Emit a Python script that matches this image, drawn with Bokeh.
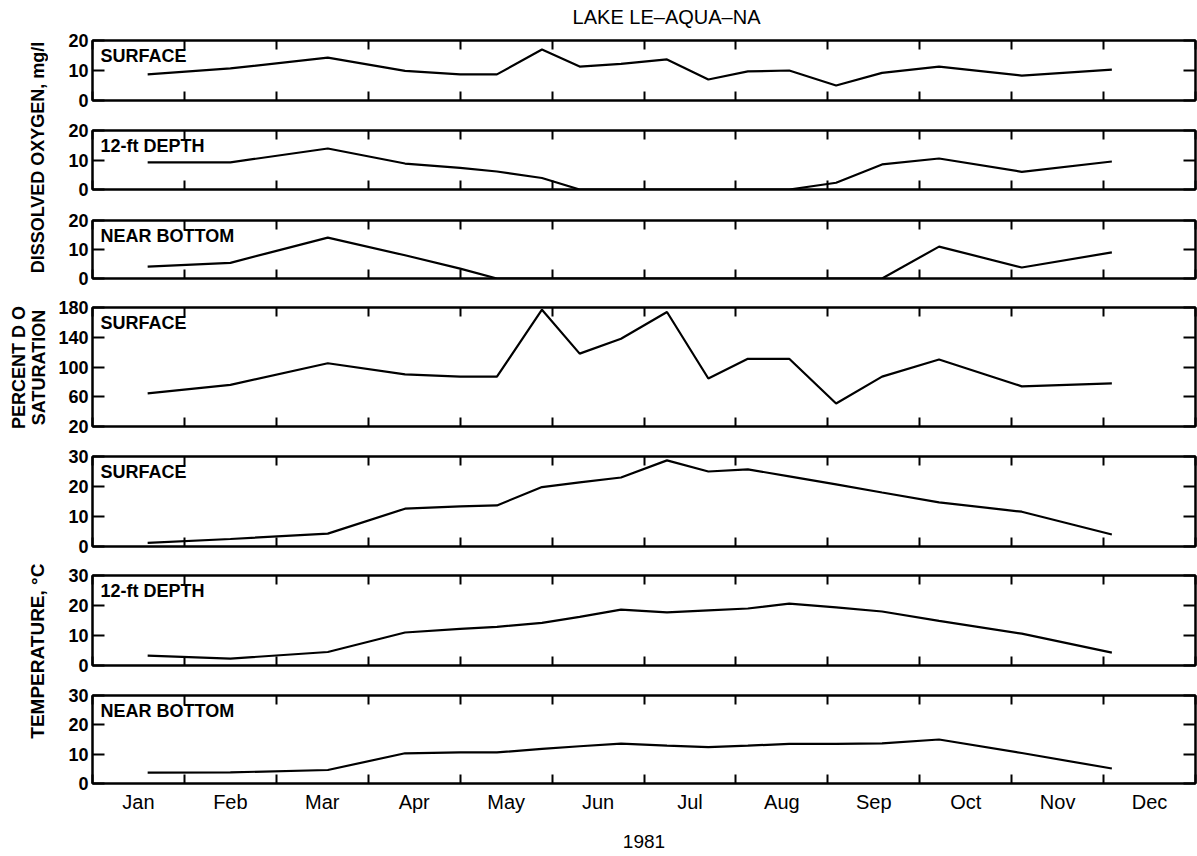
import math
from bokeh.plotting import figure
from bokeh.models import Range1d, FixedTicker, LinearAxis, Label
from bokeh.layouts import row, column
from bokeh.embed import file_html
from bokeh.resources import INLINE

# ---------------- data ----------------
months = ["Jan", "Feb", "Mar", "Apr", "May", "Jun",
          "Jul", "Aug", "Sep", "Oct", "Nov", "Dec"]
# sampling dates, in months from 1 Jan 1981
sample_month = [0.60, 1.50, 2.56, 3.40, 4.00, 4.40, 4.89, 5.30, 5.75,
                6.25, 6.70, 7.13, 7.58, 8.09, 8.59, 9.21, 10.11, 11.09]

do_surface = [8.7, 10.7, 14.3, 9.9, 8.7, 8.7, 17.0, 11.3, 12.2,
              13.7, 7.0, 9.7, 10.0, 5.0, 9.2, 11.3, 8.3, 10.3]
do_12ft = [9.2, 9.2, 13.9, 8.8, 7.3, 6.1, 3.9, 0.0, 0.0,
           0.0, 0.0, 0.0, 0.0, 2.3, 8.5, 10.5, 6.0, 9.5]
do_bottom = [4.1, 5.4, 14.1, 8.0, 3.4, 0.0, 0.0, 0.0, 0.0,
             0.0, 0.0, 0.0, 0.0, 0.0, 0.0, 11.0, 3.8, 9.0]
do_saturation = [64.5, 76, 105, 90, 87, 87, 177, 118, 138,
                 174, 84.5, 111, 111, 51, 87, 110, 74, 78]
temp_surface = [1.2, 2.5, 4.3, 12.6, 13.4, 13.7, 19.8, 21.4, 23.0,
                28.7, 25.0, 25.7, 23.4, 20.7, 18.0, 14.7, 11.6, 4.0]
temp_12ft = [3.3, 2.3, 4.5, 11.0, 12.2, 12.9, 14.2, 16.2, 18.6,
             17.7, 18.4, 19.0, 20.6, 19.4, 18.0, 14.9, 10.6, 4.3]
temp_bottom = [3.7, 3.8, 4.6, 10.3, 10.6, 10.6, 11.8, 12.7, 13.6,
               12.9, 12.4, 12.9, 13.5, 13.5, 13.7, 15.0, 10.4, 5.1]

do_ticks = [0, 10, 20]
sat_ticks = [20, 60, 100, 140, 180]
temp_ticks = [0, 10, 20, 30]

title_text = "LAKE LE–AQUA–NA"
year_text = "1981"

FONT = "Liberation Sans"
W_LEFT = 48
W_PANEL = 1149
H_TITLE = 28

month_centers = [i + 0.5 for i in range(12)]
month_bounds = list(range(13))


def tick_only_axis(ticks, tick_len):
    """Axis that draws only inward tick marks (as minor ticks) and no labels."""
    ax = LinearAxis(ticker=FixedTicker(ticks=[], minor_ticks=ticks))
    ax.axis_line_width = 2
    ax.major_tick_in = 0
    ax.major_tick_out = 0
    ax.minor_tick_in = tick_len
    ax.minor_tick_out = 0
    ax.minor_tick_line_width = 2
    ax.major_label_standoff = 0
    return ax


def make_panel(series, yr, yticks, label, height, top, bottom, last=False):
    p = figure(width=W_PANEL, height=height,
               x_range=Range1d(0, 12), y_range=Range1d(*yr),
               output_backend="svg", toolbar_location=None,
               x_axis_type=None, y_axis_type=None,
               min_border_left=44, min_border_right=2,
               min_border_top=top, min_border_bottom=bottom)
    p.outline_line_color = "black"
    p.outline_line_width = 2
    p.background_fill_color = "white"
    p.border_fill_color = "white"

    p.line(sample_month, series, line_color="black", line_width=2.2)

    # x axes: inward ticks at month boundaries; month names at month centres
    if last:
        ax = LinearAxis(ticker=FixedTicker(ticks=month_centers, minor_ticks=month_bounds))
        ax.axis_line_width = 2
        ax.major_tick_in = 0
        ax.major_tick_out = 0
        ax.minor_tick_in = 9
        ax.minor_tick_out = 0
        ax.minor_tick_line_width = 2
        ax.major_label_overrides = {c: m for c, m in zip(month_centers, months)}
        ax.major_label_text_font = FONT
        ax.major_label_text_font_size = "20px"
        ax.major_label_text_color = "black"
        ax.major_label_standoff = 7
        ax.axis_label = year_text
        ax.axis_label_text_font = FONT
        ax.axis_label_text_font_size = "19px"
        ax.axis_label_text_font_style = "normal"
        ax.axis_label_text_color = "black"
        ax.axis_label_standoff = 19
        p.add_layout(ax, "below")
    else:
        p.add_layout(tick_only_axis(month_bounds, 9), "below")
    p.add_layout(tick_only_axis(month_bounds, 9), "above")

    # y axes
    ay = LinearAxis(ticker=FixedTicker(ticks=yticks))
    ay.axis_line_width = 2
    ay.major_tick_in = 12
    ay.major_tick_out = 0
    ay.major_tick_line_width = 2
    ay.minor_tick_in = 0
    ay.minor_tick_out = 0
    ay.major_label_text_font = FONT
    ay.major_label_text_font_size = "18px"
    ay.major_label_text_font_style = "bold"
    ay.major_label_text_color = "black"
    ay.major_label_standoff = 4
    p.add_layout(ay, "left")
    p.add_layout(tick_only_axis(yticks, 12), "right")

    p.add_layout(Label(x=0, y=yr[1], x_offset=8, y_offset=-5, text=label,
                       text_baseline="top", text_align="left",
                       text_font=FONT, text_font_size="18px",
                       text_font_style="bold", text_color="black"))
    return p


# title strip above the panels (coordinates = pixels)
top_strip = figure(width=W_PANEL, height=H_TITLE, x_range=Range1d(0, W_PANEL),
                   y_range=Range1d(0, H_TITLE), output_backend="svg",
                   toolbar_location=None, x_axis_type=None, y_axis_type=None,
                   min_border=0)
top_strip.outline_line_color = None
top_strip.background_fill_color = "white"
top_strip.border_fill_color = "white"
top_strip.add_layout(Label(x=598, y=H_TITLE - 16, text=title_text,
                           text_align="center", text_baseline="middle",
                           text_font=FONT, text_font_size="20px",
                           text_color="black"))

panels = [
    make_panel(do_surface, (0, 20), do_ticks, "SURFACE", 87, 12, 15),
    make_panel(do_12ft, (0, 20), do_ticks, "12-ft DEPTH", 89, 15, 15),
    make_panel(do_bottom, (0, 20), do_ticks, "NEAR BOTTOM", 88, 16, 14),
    make_panel(do_saturation, (20, 180), sat_ticks, "SURFACE", 149, 15, 15),
    make_panel(temp_surface, (0, 30), temp_ticks, "SURFACE", 119, 15, 14),
    make_panel(temp_12ft, (0, 30), temp_ticks, "12-ft DEPTH", 120, 15, 15),
    make_panel(temp_bottom, (0, 30), temp_ticks, "NEAR BOTTOM", 176, 15, 73, last=True),
]

# left strip holding the vertical axis titles (coordinates = pixels)
left = figure(width=W_LEFT, height=856, x_range=Range1d(0, W_LEFT), y_range=Range1d(0, 856),
              output_backend="svg", toolbar_location=None,
              x_axis_type=None, y_axis_type=None, min_border=0)
left.outline_line_color = None
left.background_fill_color = "white"
left.border_fill_color = "white"

ytitles = [
    ("DISSOLVED OXYGEN, mg/l", 37, 856 - 157, "18px"),
    ("PERCENT D O", 18, 856 - 367, "18px"),
    ("SATURATION", 38, 856 - 367, "18px"),
    ("TEMPERATURE,  °C", 37, 856 - 648, "19px"),
]
for txt, x, y, fs in ytitles:
    left.add_layout(Label(x=x, y=y, text=txt, angle=math.pi / 2,
                          text_align="center", text_baseline="middle",
                          text_font=FONT, text_font_size=fs,
                          text_font_style="bold", text_color="black"))

layout = row(left, column(top_strip, *panels, spacing=0), spacing=0)

open("out.html", "w").write(file_html(layout, INLINE, title="Lake Le-Aqua-Na"))
